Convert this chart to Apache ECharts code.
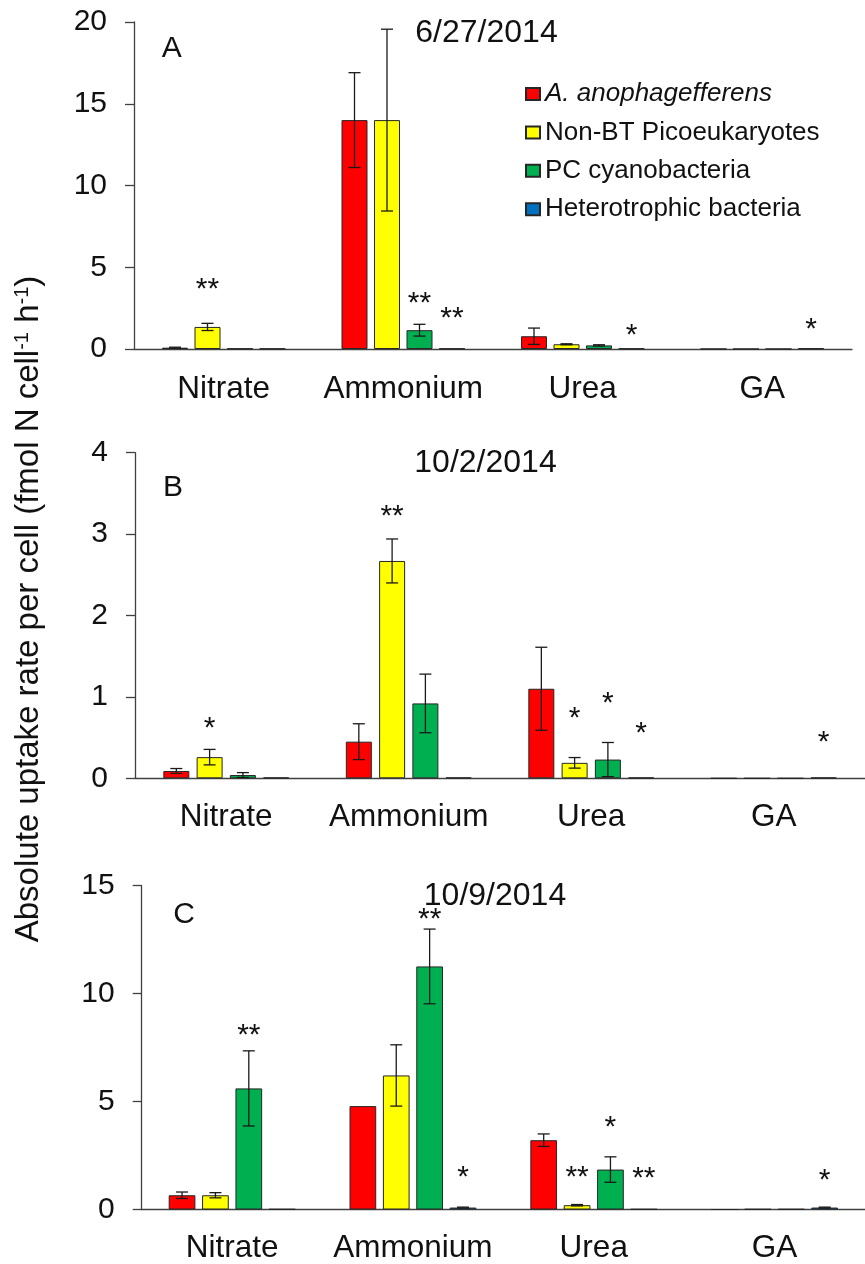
<!DOCTYPE html>
<html>
<head>
<meta charset="utf-8">
<script src="https://cdn.jsdelivr.net/npm/echarts@6/dist/echarts.min.js"></script>
<style>
html,body{margin:0;padding:0;background:#fff;}
#chart{width:865px;height:1264px;}
</style>
</head>
<body>
<div id="chart"></div>
<script>
// ---------------- DATA ----------------
const categories = ['Nitrate', 'Ammonium', 'Urea', 'GA'];
const seriesNames = ['A. anophagefferens', 'Non-BT Picoeukaryotes', 'PC cyanobacteria', 'Heterotrophic bacteria'];
const panelDates = ['6/27/2014', '10/2/2014', '10/9/2014'];
const panelLetters = ['A', 'B', 'C'];
const yTicksA = [0, 5, 10, 15, 20];
const yTicksB = [0, 1, 2, 3, 4];
const yTicksC = [0, 5, 10, 15];

// Panel A (6/27/2014): means per category
const aanoA = [0.08, 14.0, 0.78, 0];
const picoA = [1.35, 14.0, 0.29, 0];
const pcA   = [0.03, 1.15, 0.22, 0];
const hetA  = [0.02, 0.03, 0.03, 0.04];
// Panel A error (+/-)
const aanoErrA = [0.03, 2.9, 0.5, 0];
const picoErrA = [0.22, 5.56, 0.03, 0];
const pcErrA   = [0, 0.36, 0.04, 0];
const hetErrA  = [0, 0, 0, 0];
// Panel A significance markers: [category, series, mark, height]
const sigA = [[0, 1, '**', 4.06], [1, 2, '**', 3.24], [1, 3, '**', 2.28], [2, 3, '*', 1.30], [3, 3, '*', 1.61]];

// Panel B (10/2/2014)
const aanoB = [0.09, 0.45, 1.10, 0];
const picoB = [0.26, 2.67, 0.19, 0];
const pcB   = [0.04, 0.92, 0.23, 0];
const hetB  = [0.01, 0.01, 0.01, 0.01];
const aanoErrB = [0.03, 0.22, 0.51, 0];
const picoErrB = [0.095, 0.27, 0.065, 0];
const pcErrB   = [0.03, 0.36, 0.21, 0];
const hetErrB  = [0, 0, 0, 0];
const sigB = [[0, 1, '*', 0.695], [1, 1, '**', 3.30], [2, 1, '*', 0.82], [2, 2, '*', 1.01], [2, 3, '*', 0.64], [3, 3, '*', 0.53]];

// Panel C (10/9/2014)
const aanoC = [0.66, 4.79, 3.21, 0];
const picoC = [0.66, 6.21, 0.20, 0.02];
const pcC   = [5.61, 11.26, 1.85, 0.02];
const hetC  = [0.02, 0.09, 0.02, 0.09];
const aanoErrC = [0.15, 0, 0.29, 0];
const picoErrC = [0.12, 1.42, 0.03, 0];
const pcErrC   = [1.74, 1.73, 0.59, 0];
const hetErrC  = [0, 0.02, 0, 0.02];
const sigC = [[0, 2, '**', 8.41], [1, 2, '**', 13.76], [1, 3, '*', 1.83], [2, 1, '**', 1.83], [2, 2, '*', 4.15], [2, 3, '**', 1.76], [3, 3, '*', 1.68]];

// ---------------- STYLE / LAYOUT ----------------
const FONT = '"Liberation Sans", Arial, Helvetica, sans-serif';
const TXT = '#111';
const AX = '#404040';
const colors = ['#FF0000', '#FFFF00', '#00B050', '#0070C0'];

const panels = [
  { vals: [aanoA, picoA, pcA, hetA], errs: [aanoErrA, picoErrA, pcErrA, hetErrA], sig: sigA, ticks: yTicksA,
    grid: { left: 134, top: 22, width: 718, height: 327 }, barW: 26, gap: 0.25, labelMargin: 24,
    title: [486.5, 33], letter: [171.7, 49] },
  { vals: [aanoB, picoB, pcB, hetB], errs: [aanoErrB, picoErrB, pcErrB, hetErrB], sig: sigB, ticks: yTicksB,
    grid: { left: 135, top: 452.7, width: 737.6, height: 325.6 }, barW: 26, gap: 0.28, labelMargin: 23.5,
    title: [485.5, 463.5], letter: [173, 488] },
  { vals: [aanoC, picoC, pcC, hetC], errs: [aanoErrC, picoErrC, pcErrC, hetErrC], sig: sigC, ticks: yTicksC,
    grid: { left: 141.7, top: 885.7, width: 736, height: 327 }, barW: 26.7, gap: 0.25, labelMargin: 22.5,
    title: [495, 896.5], letter: [184, 914.5] }
];

const grids = [], xAxes = [], yAxes = [], series = [], graphics = [];

panels.forEach((p, pi) => {
  grids.push(Object.assign({ containLabel: false }, p.grid));
  xAxes.push({
    type: 'category', gridIndex: pi, data: categories,
    axisLine: { show: true, lineStyle: { color: AX, width: 1.3 } },
    axisTick: { show: false },
    axisLabel: { fontSize: 31.5, color: TXT, fontFamily: FONT, margin: p.labelMargin, interval: 0 },
    splitLine: { show: false }
  });
  const tk = p.ticks;
  yAxes.push({
    type: 'value', gridIndex: pi, min: tk[0], max: tk[tk.length - 1], interval: tk[1] - tk[0],
    axisLine: { show: true, lineStyle: { color: AX, width: 1.3 } },
    axisTick: { show: true, length: 9, lineStyle: { color: AX, width: 1.3 } },
    axisLabel: { fontSize: 30, color: TXT, fontFamily: FONT, margin: 27 },
    splitLine: { show: false }
  });
  const step = p.barW * (1 + p.gap);
  p.vals.forEach((arr, si) => {
    series.push({
      type: 'bar', name: seriesNames[si], xAxisIndex: pi, yAxisIndex: pi,
      data: arr, barWidth: p.barW, barGap: (p.gap * 100) + '%',
      itemStyle: { color: colors[si], borderColor: '#262626', borderWidth: 1 },
      emphasis: { disabled: true }, animation: false, z: 2
    });
  });
  // error bars
  const errData = [];
  p.vals.forEach((arr, si) => {
    arr.forEach((v, ci) => {
      const e = p.errs[si][ci];
      if (e > 0) errData.push([ci, v - e, v + e, si]);
    });
  });
  series.push({
    type: 'custom', name: 'err' + pi, xAxisIndex: pi, yAxisIndex: pi,
    data: errData, encode: { x: 0, y: [1, 2] }, z: 5, animation: false, silent: true,
    renderItem: function (params, api) {
      const ci = api.value(0), lo = api.value(1), hi = api.value(2), si = api.value(3);
      const off = (si - 1.5) * step;
      const t = api.coord([ci, hi]);
      const b = api.coord([ci, Math.max(lo, 0)]);
      const x = t[0] + off;
      const hw = 6;
      const st = { stroke: '#1a1a1a', lineWidth: 1.3 };
      return {
        type: 'group', children: [
          { type: 'line', shape: { x1: x, y1: t[1], x2: x, y2: b[1] }, style: st },
          { type: 'line', shape: { x1: x - hw, y1: t[1], x2: x + hw, y2: t[1] }, style: st },
          { type: 'line', shape: { x1: x - hw, y1: b[1], x2: x + hw, y2: b[1] }, style: st }
        ]
      };
    }
  });
  // significance asterisks
  const sigData = p.sig.map(s => [s[0], s[3], s[1]]);
  series.push({
    type: 'custom', name: 'sig' + pi, xAxisIndex: pi, yAxisIndex: pi,
    data: sigData, encode: { x: 0, y: 1 }, z: 6, animation: false, silent: true,
    renderItem: function (params, api) {
      const s = p.sig[params.dataIndex];
      const ci = api.value(0), yv = api.value(1), si = api.value(2);
      const off = (si - 1.5) * step;
      const c = api.coord([ci, yv]);
      return {
        type: 'text', x: c[0] + off, y: c[1] + 7.5,
        style: { text: s[2], fontSize: 30, fontFamily: FONT, fill: TXT,
                 align: 'center', verticalAlign: 'middle', textAlign: 'center', textVerticalAlign: 'middle' }
      };
    }
  });
  graphics.push({
    type: 'text', x: p.title[0], y: p.title[1], silent: true,
    style: { text: panelDates[pi], fontSize: 32, fontFamily: FONT, fill: TXT,
             align: 'center', verticalAlign: 'middle', textAlign: 'center', textVerticalAlign: 'middle' }
  });
  graphics.push({
    type: 'text', x: p.letter[0], y: p.letter[1], silent: true,
    style: { text: panelLetters[pi], fontSize: 30, fontFamily: FONT, fill: TXT,
             align: 'center', verticalAlign: 'middle', textAlign: 'center', textVerticalAlign: 'middle' }
  });
});

graphics.push({
  type: 'text', x: 29, y: 609, rotation: Math.PI / 2, silent: true,
  style: {
    text: 'Absolute uptake rate per cell (fmol N cell{s|-1} h{s|-1})',
    rich: { s: { fontSize: 20, fontFamily: FONT, fill: TXT, verticalAlign: 'top' } },
    fontSize: 33, fontFamily: FONT, fill: TXT,
    align: 'center', verticalAlign: 'middle', textAlign: 'center', textVerticalAlign: 'middle'
  }
});

const chart = echarts.init(document.getElementById('chart'), null, { renderer: 'canvas' });
chart.setOption({
  backgroundColor: '#fff',
  animation: false,
  textStyle: { fontFamily: FONT },
  grid: grids,
  xAxis: xAxes,
  yAxis: yAxes,
  legend: {
    data: seriesNames, orient: 'vertical', left: 520, top: 76,
    itemWidth: 14, itemHeight: 12, itemGap: 12.4, icon: 'rect',
    selectedMode: false,
    textStyle: { fontSize: 26, color: TXT, fontFamily: FONT, rich: { i: { fontStyle: 'italic', fontSize: 26, color: TXT, fontFamily: FONT } } },
    formatter: function (name) { return name === seriesNames[0] ? '{i|' + name + '}' : name; }
  },
  series: series,
  graphic: graphics
});
</script>
</body>
</html>
